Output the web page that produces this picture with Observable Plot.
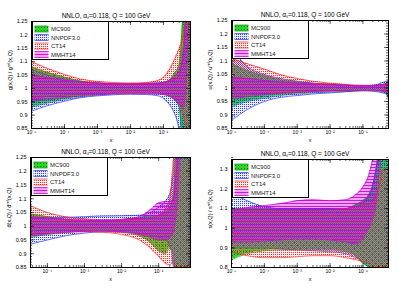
<!DOCTYPE html>
<html><head><meta charset="utf-8">
<script src="https://cdn.jsdelivr.net/npm/d3@7"></script>
<script src="https://cdn.jsdelivr.net/npm/@observablehq/plot@0.6"></script>
<style>
body{margin:0;background:#fff;font-family:"Liberation Sans",Arial,sans-serif;}
#wrap{position:relative;width:398px;height:286px;overflow:hidden;}
.panel{position:absolute;height:143px;}
.panel svg{display:block;}
.legend{position:absolute;}
</style></head><body>
<svg width="0" height="0" style="position:absolute">
<defs>
<pattern id="pMC" width="3" height="3" patternUnits="userSpaceOnUse"><rect width="3" height="3" fill="#27d627"/><rect width="1" height="1" fill="#0a6e0a"/></pattern>
<pattern id="pNN" width="2" height="2" patternUnits="userSpaceOnUse"><rect width="2" height="2" fill="rgba(120,140,255,0.15)"/><rect width="1" height="1" fill="#2a3cff"/></pattern>
<pattern id="pCT" width="2" height="2" patternUnits="userSpaceOnUse"><rect width="2" height="2" fill="rgba(255,140,140,0.15)"/><rect x="1" y="1" width="1" height="1" fill="#ff2a2a"/></pattern>
<pattern id="pMM" width="3" height="3" patternUnits="userSpaceOnUse"><rect width="3" height="3" fill="rgba(210,0,230,0.36)"/><rect width="3" height="1" fill="rgba(200,0,210,0.85)"/></pattern>
</defs></svg>
<div id="wrap"></div>
<script>
const seriesNames = ["MC900", "NNPDF3.0", "CT14", "MMHT14"];
const seriesFill = ["url(#pMC)", "url(#pNN)", "url(#pCT)", "url(#pMM)"];
const seriesEdge = ["#0b8f0b", "#1f2fff", "#ff2020", "#d000d0"];
const titleText = "NNLO, αₛ=0.118, Q = 100 GeV";

const xMajor = [1e-5, 1e-4, 1e-3, 1e-2, 1e-1];
const xMajorLabels = ["10⁻⁵", "10⁻⁴", "10⁻³", "10⁻²", "10⁻¹"];
const yTicksA = [0.85, 0.9, 0.95, 1, 1.05, 1.1, 1.15, 1.2, 1.25];
const yLabelsA = ["0.85", "0.9", "0.95", "1", "1.05", "1.1", "1.15", "1.2", "1.25"];
const yTicksB = [0.8, 0.9, 1, 1.1, 1.2, 1.3];
const yLabelsB = ["0.8", "0.9", "1", "1.1", "1.2", "1.3"];

// gluon panel
const gX = [1e-5, 3e-5, 1e-4, 3e-4, 1e-3, 3e-3, 1e-2, 3e-2, 0.07, 0.1, 0.15, 0.2, 0.3, 0.4, 0.5, 0.6, 0.68];
const gMC900Lo = [0.93, 0.945, 0.958, 0.968, 0.975, 0.98, 0.982, 0.982, 0.982, 0.978, 0.97, 0.96, 0.93, 0.7, 0.5, 0.5, 0.5];
const gMC900Hi = [1.08, 1.06, 1.042, 1.028, 1.02, 1.017, 1.016, 1.017, 1.018, 1.022, 1.03, 1.05, 1.09, 1.3, 1.5, 1.5, 1.5];
const gNNPDFLo = [0.915, 0.935, 0.952, 0.965, 0.972, 0.976, 0.978, 0.977, 0.972, 0.962, 0.94, 0.915, 0.84, 0.7, 0.6, 0.6, 0.6];
const gNNPDFHi = [1.07, 1.05, 1.035, 1.025, 1.02, 1.018, 1.017, 1.019, 1.021, 1.022, 1.026, 1.03, 1.05, 1.15, 1.3, 1.4, 1.5];
const gCT14Lo = [0.965, 0.97, 0.975, 0.978, 0.98, 0.982, 0.983, 0.983, 0.982, 0.978, 0.974, 0.97, 0.95, 0.9, 0.85, 0.8, 0.8];
const gCT14Hi = [1.1, 1.075, 1.052, 1.035, 1.026, 1.022, 1.02, 1.022, 1.03, 1.042, 1.07, 1.1, 1.15, 1.2, 1.3, 1.4, 1.5];
const gMMHTLo = [0.95, 0.958, 0.966, 0.972, 0.976, 0.979, 0.98, 0.98, 0.979, 0.977, 0.972, 0.963, 0.94, 0.93, 1.05, 1.3, 1.3];
const gMMHTHi = [1.05, 1.04, 1.03, 1.024, 1.02, 1.017, 1.016, 1.017, 1.018, 1.021, 1.03, 1.04, 1.07, 1.12, 1.3, 1.4, 1.4];

// u quark panel
const uX = [1e-5, 3e-5, 1e-4, 3e-4, 1e-3, 3e-3, 1e-2, 3e-2, 0.1, 0.2, 0.3, 0.4, 0.5, 0.6, 0.65];
const uMC900Lo = [0.93, 0.95, 0.962, 0.972, 0.978, 0.982, 0.985, 0.987, 0.99, 0.99, 0.988, 0.985, 0.98, 0.96, 0.9];
const uMC900Hi = [1.09, 1.065, 1.045, 1.03, 1.022, 1.017, 1.013, 1.01, 1.008, 1.008, 1.01, 1.013, 1.018, 1.03, 1.05];
const uNNPDFLo = [0.88, 0.92, 0.95, 0.965, 0.972, 0.978, 0.982, 0.986, 0.99, 0.988, 0.985, 0.982, 0.978, 0.97, 0.92];
const uNNPDFHi = [1.15, 1.08, 1.05, 1.035, 1.025, 1.018, 1.014, 1.01, 1.008, 1.01, 1.015, 1.02, 1.025, 1.02, 1.04];
const uCT14Lo = [0.97, 0.975, 0.98, 0.983, 0.986, 0.988, 0.99, 0.99, 0.992, 0.992, 0.99, 0.99, 0.988, 0.98, 0.97];
const uCT14Hi = [1.11, 1.09, 1.07, 1.05, 1.035, 1.025, 1.018, 1.013, 1.01, 1.01, 1.01, 1.01, 1.015, 1.03, 1.08];
const uMMHTLo = [0.96, 0.968, 0.975, 0.98, 0.984, 0.987, 0.989, 0.99, 0.992, 0.992, 0.99, 0.988, 0.985, 0.98, 0.97];
const uMMHTHi = [1.04, 1.035, 1.028, 1.022, 1.018, 1.015, 1.012, 1.01, 1.008, 1.008, 1.01, 1.012, 1.015, 1.02, 1.03];

// dbar panel
const dX = [3.5e-5, 1e-4, 3e-4, 1e-3, 3e-3, 1e-2, 3e-2, 0.06, 0.1, 0.15, 0.2, 0.25, 0.3, 0.4, 0.5, 0.72];
const dMC900Lo = [0.96, 0.97, 0.978, 0.982, 0.982, 0.978, 0.965, 0.94, 0.91, 0.9, 0.92, 0.9, 0.7, 0.5, 0.5, 0.5];
const dMC900Hi = [1.045, 1.035, 1.025, 1.02, 1.02, 1.022, 1.03, 1.04, 1.04, 1.05, 1.07, 1.12, 1.3, 1.5, 1.5, 1.5];
const dNNPDFLo = [0.935, 0.95, 0.965, 0.975, 0.98, 0.98, 0.975, 0.965, 0.96, 0.95, 0.93, 0.85, 0.7, 0.5, 0.5, 0.5];
const dNNPDFHi = [1.03, 1.03, 1.032, 1.035, 1.037, 1.038, 1.04, 1.05, 1.07, 1.09, 1.12, 1.2, 1.4, 1.5, 1.5, 1.5];
const dCT14Lo = [0.97, 0.975, 0.978, 0.98, 0.978, 0.97, 0.95, 0.92, 0.89, 0.865, 0.86, 0.87, 0.8, 0.7, 0.6, 0.6];
const dCT14Hi = [1.075, 1.05, 1.035, 1.027, 1.022, 1.022, 1.025, 1.03, 1.04, 1.06, 1.1, 1.25, 1.4, 1.5, 1.5, 1.5];
const dMMHTLo = [0.965, 0.972, 0.978, 0.982, 0.983, 0.98, 0.97, 0.96, 0.95, 0.95, 0.96, 0.98, 1.05, 1.3, 1.3, 1.3];
const dMMHTHi = [1.035, 1.03, 1.025, 1.022, 1.022, 1.025, 1.035, 1.06, 1.085, 1.09, 1.09, 1.1, 1.2, 1.4, 1.4, 1.4];

// strange panel
const sX = [1e-5, 3e-5, 1e-4, 3e-4, 1e-3, 3e-3, 1e-2, 3e-2, 0.06, 0.1, 0.15, 0.2, 0.25, 0.3, 0.4, 0.5, 0.65];
const sMC900Lo = [0.84, 0.87, 0.885, 0.89, 0.89, 0.89, 0.89, 0.88, 0.86, 0.82, 0.8, 0.75, 0.7, 0.6, 0.5, 0.5, 0.5];
const sMC900Hi = [1.1, 1.1, 1.1, 1.1, 1.1, 1.1, 1.1, 1.1, 1.12, 1.14, 1.17, 1.22, 1.3, 1.4, 1.5, 1.5, 1.5];
const sNNPDFLo = [0.9, 0.9, 0.9, 0.895, 0.89, 0.885, 0.88, 0.87, 0.85, 0.83, 0.8, 0.78, 0.75, 0.7, 0.6, 0.6, 0.6];
const sNNPDFHi = [1.18, 1.14, 1.11, 1.1, 1.1, 1.1, 1.1, 1.1, 1.11, 1.13, 1.16, 1.22, 1.3, 1.35, 1.4, 1.4, 1.4];
const sCT14Lo = [0.88, 0.86, 0.85, 0.85, 0.855, 0.86, 0.86, 0.85, 0.84, 0.83, 0.82, 0.8, 0.78, 0.75, 0.7, 0.7, 0.7];
const sCT14Hi = [1.09, 1.09, 1.09, 1.09, 1.09, 1.09, 1.095, 1.1, 1.11, 1.12, 1.12, 1.14, 1.17, 1.2, 1.3, 1.3, 1.3];
const sMMHTLo = [0.93, 0.93, 0.935, 0.94, 0.945, 0.945, 0.94, 0.93, 0.92, 0.95, 1.0, 1.05, 1.12, 1.25, 1.4, 1.4, 1.4];
const sMMHTHi = [1.09, 1.105, 1.115, 1.125, 1.14, 1.145, 1.14, 1.145, 1.17, 1.21, 1.27, 1.35, 1.4, 1.45, 1.5, 1.5, 1.5];

const panels = [
  {left: 0, top: 0, width: 199, ml: 31, mr: 9, mt: 21, mb: 15, xDomain: [1e-5, 0.66], yDomain: [0.85, 1.25],
   yTicks: yTicksA, yLabels: yLabelsA, yMinorStep: 0.01, yLabel: "g(x,Q) / gʳᵉᶠ(x,Q)", x: gX,
   bands: [[gMC900Lo, gMC900Hi], [gNNPDFLo, gNNPDFHi], [gCT14Lo, gCT14Hi], [gMMHTLo, gMMHTHi]]},
  {left: 198, top: 0, width: 200, ml: 33, mr: 10, mt: 20, mb: 15, xDomain: [1e-5, 0.6], yDomain: [0.85, 1.25],
   yTicks: yTicksA, yLabels: yLabelsA, yMinorStep: 0.01, yLabel: "u(x,Q) / uʳᵉᶠ(x,Q)", x: uX,
   bands: [[uMC900Lo, uMC900Hi], [uNNPDFLo, uNNPDFHi], [uCT14Lo, uCT14Hi], [uMMHTLo, uMMHTHi]]},
  {left: 0, top: 143, width: 199, ml: 30, mr: 9, mt: 14, mb: 19, xDomain: [3.5e-5, 0.72], yDomain: [0.85, 1.25],
   yTicks: yTicksA, yLabels: yLabelsA, yMinorStep: 0.01, yLabel: "d̄(x,Q) / d̄ʳᵉᶠ(x,Q)", x: dX,
   bands: [[dMC900Lo, dMC900Hi], [dNNPDFLo, dNNPDFHi], [dCT14Lo, dCT14Hi], [dMMHTLo, dMMHTHi]]},
  {left: 198, top: 143, width: 200, ml: 33, mr: 10, mt: 16, mb: 19, xDomain: [1e-5, 0.6], yDomain: [0.8, 1.35],
   yTicks: yTicksB, yLabels: yLabelsB, yMinorStep: 0.02, yLabel: "s(x,Q) / sʳᵉᶠ(x,Q)", x: sX,
   bands: [[sMC900Lo, sMC900Hi], [sNNPDFLo, sNNPDFHi], [sCT14Lo, sCT14Hi], [sMMHTLo, sMMHTHi]]}
];

const wrap = document.getElementById("wrap");
const H = 143;

panels.forEach(p => {
  const plotW = p.width - p.ml - p.mr;
  const plotH = H - p.mt - p.mb;
  const pxPerY = plotH / (p.yDomain[1] - p.yDomain[0]);
  const pxPerDec = plotW / (Math.log10(p.xDomain[1]) - Math.log10(p.xDomain[0]));
  const [y0, y1] = p.yDomain;
  const [x0, x1] = p.xDomain;
  const dyLen = L => L / pxPerY;
  const xMul = L => Math.pow(10, L / pxPerDec);

  const xMinor = [];
  for (let e = -6; e <= 0; e++) for (let m = 1; m <= 9; m++) {
    const v = m * Math.pow(10, e);
    if (v >= x0 && v <= x1) xMinor.push(v);
  }
  const xMaj = xMajor.filter(v => v >= x0 && v <= x1);
  const yMinor = d3.range(Math.round(y0 / p.yMinorStep), Math.round(y1 / p.yMinorStep) + 1).map(k => +(k * p.yMinorStep).toFixed(3));

  const marks = [];
  p.bands.forEach((b, k) => {
    const rows = p.x.map((x, i) => ({x, lo: b[0][i], hi: b[1][i]}));
    marks.push(Plot.areaY(rows, {x: "x", y1: "lo", y2: "hi", fill: seriesFill[k], curve: "monotone-x", clip: true}));
    marks.push(Plot.lineY(rows, {x: "x", y: "lo", stroke: seriesEdge[k], strokeWidth: 0.7, curve: "monotone-x", clip: true}));
    marks.push(Plot.lineY(rows, {x: "x", y: "hi", stroke: seriesEdge[k], strokeWidth: 0.7, curve: "monotone-x", clip: true}));
  });
  marks.push(Plot.ruleX(xMinor, {x: d => d, y1: y0, y2: y0 + dyLen(2), stroke: "#000", strokeWidth: 0.6}));
  marks.push(Plot.ruleX(xMinor, {x: d => d, y1: y1, y2: y1 - dyLen(2), stroke: "#000", strokeWidth: 0.6}));
  marks.push(Plot.ruleX(xMaj, {x: d => d, y1: y0, y2: y0 + dyLen(4), stroke: "#000", strokeWidth: 0.6}));
  marks.push(Plot.ruleX(xMaj, {x: d => d, y1: y1, y2: y1 - dyLen(4), stroke: "#000", strokeWidth: 0.6}));
  marks.push(Plot.ruleY(yMinor, {y: d => d, x1: x0, x2: x0 * xMul(2), stroke: "#000", strokeWidth: 0.6}));
  marks.push(Plot.ruleY(yMinor, {y: d => d, x1: x1, x2: x1 / xMul(2), stroke: "#000", strokeWidth: 0.6}));
  marks.push(Plot.ruleY(p.yTicks, {y: d => d, x1: x0, x2: x0 * xMul(4), stroke: "#000", strokeWidth: 0.6}));
  marks.push(Plot.ruleY(p.yTicks, {y: d => d, x1: x1, x2: x1 / xMul(4), stroke: "#000", strokeWidth: 0.6}));
  marks.push(Plot.frame({stroke: "#000", strokeWidth: 1}));
  marks.push(Plot.axisX(xMaj, {tickSize: 0, tickPadding: 2, fontSize: 5, label: null,
    tickFormat: d => xMajorLabels[xMajor.indexOf(d)]}));
  marks.push(Plot.axisY(p.yTicks, {tickSize: 0, tickPadding: 4, fontSize: 5.5, label: null,
    tickFormat: d => p.yLabels[p.yTicks.indexOf(d)]}));
  marks.push(Plot.text(["x"], {frameAnchor: "bottom", dy: 13, fontSize: 5.5}));
  marks.push(Plot.text([p.yLabel], {frameAnchor: "left", rotate: -90, dx: -21, dy: 15, fontSize: 5.5}));
  marks.push(Plot.text([titleText], {frameAnchor: "top", dy: -8, dx: -5, fontSize: 6.5}));

  const chart = Plot.plot({
    width: p.width, height: H,
    marginLeft: p.ml, marginRight: p.mr, marginTop: p.mt, marginBottom: p.mb,
    x: {type: "log", domain: p.xDomain},
    y: {domain: p.yDomain},
    style: {fontFamily: "Liberation Sans, Arial, sans-serif", background: "transparent", color: "#000"},
    marks
  });

  const div = document.createElement("div");
  div.className = "panel";
  div.style.left = p.left + "px";
  div.style.top = p.top + "px";
  div.style.width = p.width + "px";
  div.appendChild(chart);

  const lg = d3.create("svg").attr("class", "legend").attr("width", 77).attr("height", 39)
    .style("left", (p.ml + 1) + "px").style("top", (p.mt) + "px");
  lg.append("rect").attr("x", 0.5).attr("y", 0.5).attr("width", 76).attr("height", 38)
    .attr("fill", "#fff").attr("stroke", "#000").attr("stroke-width", 1);
  seriesNames.forEach((name, k) => {
    const cy = 8 + k * 8.5;
    lg.append("rect").attr("x", 2.5).attr("y", cy - 3).attr("width", 14).attr("height", 6).attr("fill", seriesFill[k]);
    lg.append("line").attr("x1", 2.5).attr("x2", 16.5).attr("y1", cy - 3).attr("y2", cy - 3).attr("stroke", seriesEdge[k]).attr("stroke-width", 0.7);
    lg.append("line").attr("x1", 2.5).attr("x2", 16.5).attr("y1", cy + 3).attr("y2", cy + 3).attr("stroke", seriesEdge[k]).attr("stroke-width", 0.7);
    lg.append("text").attr("x", 19).attr("y", cy).attr("dy", "0.35em").attr("font-size", 6)
      .attr("font-family", "Liberation Sans, Arial, sans-serif").attr("fill", "#222").text(name);
  });
  div.appendChild(lg.node());
  wrap.appendChild(div);
});
</script>
</body></html>
